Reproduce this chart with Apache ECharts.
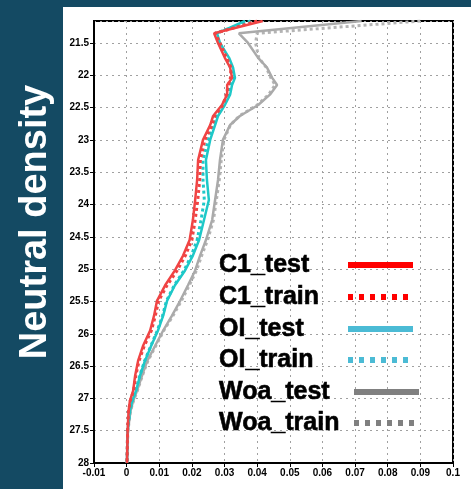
<!DOCTYPE html>
<html>
<head>
<meta charset="utf-8">
<script src="https://cdn.jsdelivr.net/npm/echarts@6/dist/echarts.min.js"></script>
<style>
  html, body { margin: 0; padding: 0; background: #144a63; }
  #chart { width: 471px; height: 489px; }
</style>
</head>
<body>
<div id="chart"></div>
<script>
// neutral density levels (y axis)
const density = [21.16, 21.35, 21.5, 21.73, 21.88, 22.04, 22.15, 22.3, 22.46, 22.63, 22.77,
  23.0, 23.31, 23.62, 23.93, 24.24, 24.55, 24.79, 25.02, 25.25, 25.49, 25.72, 25.95,
  26.19, 26.42, 26.65, 26.88, 27.04, 27.19, 27.5, 28.0];

const c1Test = [0.0417, 0.0268, 0.0280, 0.0301, 0.0317, 0.0323, 0.0308, 0.0308, 0.0292, 0.0265, 0.0256,
  0.0234, 0.0219, 0.0216, 0.0210, 0.0203, 0.0193, 0.0173, 0.0148, 0.0118, 0.0093, 0.0084, 0.0072,
  0.0050, 0.0035, 0.0026, 0.0020, 0.0010, 0.0006, 0.0003, 0.0001];
const c1Train = [0.0400, 0.0272, 0.0286, 0.0306, 0.0320, 0.0318, 0.0312, 0.0305, 0.0295, 0.0270, 0.0262,
  0.0240, 0.0226, 0.0224, 0.0218, 0.0210, 0.0200, 0.0180, 0.0155, 0.0124, 0.0098, 0.0088, 0.0076,
  0.0054, 0.0038, 0.0028, 0.0021, 0.0011, 0.0006, 0.0003, 0.0001];
const oiTest = [0.0363, 0.0277, 0.0286, 0.0314, 0.0326, 0.0332, 0.0323, 0.0317, 0.0301, 0.0280, 0.0271,
  0.0256, 0.0243, 0.0246, 0.0252, 0.0237, 0.0222, 0.0203, 0.0179, 0.0148, 0.0124, 0.0112, 0.0096,
  0.0075, 0.0056, 0.0041, 0.0029, 0.0017, 0.0010, 0.0003, 0.0001];
const oiTrain = [0.0380, 0.0272, 0.0282, 0.0305, 0.0318, 0.0325, 0.0318, 0.0312, 0.0298, 0.0276, 0.0266,
  0.0250, 0.0234, 0.0234, 0.0238, 0.0228, 0.0216, 0.0198, 0.0176, 0.0146, 0.0122, 0.0110, 0.0094,
  0.0074, 0.0055, 0.0040, 0.0028, 0.0017, 0.0010, 0.0003, 0.0001];
const woaTest = [0.0720, 0.0344, 0.0372, 0.0403, 0.0430, 0.0446, 0.0461, 0.0439, 0.0403, 0.0347, 0.0317,
  0.0295, 0.0286, 0.0280, 0.0271, 0.0262, 0.0243, 0.0225, 0.0210, 0.0188, 0.0164, 0.0139, 0.0112,
  0.0087, 0.0063, 0.0047, 0.0032, 0.0020, 0.0012, 0.0004, 0.0001];
const woaTrain = [0.0900, 0.0400, 0.0395, 0.0405, 0.0428, 0.0442, 0.0455, 0.0435, 0.0400, 0.0345, 0.0318,
  0.0298, 0.0290, 0.0284, 0.0275, 0.0266, 0.0248, 0.0230, 0.0214, 0.0192, 0.0168, 0.0142, 0.0114,
  0.0089, 0.0065, 0.0048, 0.0033, 0.0021, 0.0012, 0.0004, 0.0001];

const legendNames = ['C1_test', 'C1_train', 'OI_test', 'OI_train', 'Woa_test', 'Woa_train'];

const chart = echarts.init(document.getElementById('chart'));

function pairs(vals) {
  return vals.map((v, i) => [v, density[i]]);
}

function line(name, vals, color, dotted) {
  return {
    name: name,
    type: 'line',
    data: pairs(vals),
    showSymbol: false,
    clip: true,
    animation: false,
    lineStyle: { color: color, width: dotted ? 3 : 2.5, type: dotted ? [3, 3] : 'solid' }
  };
}

// legend drawn by hand: text left, line sample right
const legendColors = ['#ff0000', '#ff0000', '#4bbbd5', '#4bbbd5', '#808080', '#808080'];
const legendRows = [265, 297, 329, 360, 392, 423];
const legendGraphics = [];
legendNames.forEach((n, i) => {
  const x0 = i >= 4 ? 354 : 348;
  legendGraphics.push({
    type: 'text', x: 219, y: legendRows[i], z: 100,
    style: { text: n, fill: '#000', stroke: '#000', lineWidth: 0.6,
      font: 'bold 25px "Liberation Sans", Arial, sans-serif', verticalAlign: 'middle' }
  });
  legendGraphics.push({
    type: 'line', z: 100,
    shape: { x1: x0, y1: legendRows[i], x2: x0 + 65, y2: legendRows[i] },
    style: { stroke: legendColors[i], lineWidth: 6, lineDash: i % 2 ? [5, 6] : null }
  });
});

const gridDots = { show: true, lineStyle: { color: '#a0a0a0', type: [2, 4], width: 1 } };

const option = {
  backgroundColor: '#144a63',
  animation: false,
  grid: { left: 94, right: 18, top: 21, bottom: 26, show: true, borderColor: '#000', borderWidth: 2 },
  xAxis: {
    type: 'value',
    min: -0.01, max: 0.1, interval: 0.01,
    axisLine: { onZero: false, lineStyle: { color: '#000', width: 2 } },
    axisTick: { show: true, length: 4, lineStyle: { color: '#000' } },
    axisLabel: { color: '#000', fontWeight: 'bold', fontSize: 10, margin: 5, fontFamily: 'Liberation Sans',
      formatter: v => String(+v.toFixed(2)) },
    splitLine: gridDots
  },
  yAxis: {
    type: 'value',
    inverse: true,
    min: 21.16, max: 28, minInterval: 0.5, maxInterval: 0.5, splitNumber: 14,
    axisLine: { onZero: false, lineStyle: { color: '#000', width: 2 } },
    axisTick: { show: true, length: 4, lineStyle: { color: '#000' } },
    axisLabel: { color: '#000', fontWeight: 'bold', fontSize: 10, margin: 5, fontFamily: 'Liberation Sans',
      showMinLabel: false,
      formatter: v => (Math.abs(v * 2 - Math.round(v * 2)) < 1e-6 ? String(v) : '') },
    splitLine: gridDots
  },
  graphic: [
    { type: 'rect', shape: { x: 63, y: 7, width: 408, height: 482 }, style: { fill: '#fff' }, z: -10 },
    { type: 'text', x: 36, y: 222, rotation: Math.PI / 2,
      style: { text: 'Neutral density', fill: '#fff', font: 'bold 38px "Liberation Sans", Arial, sans-serif',
        align: 'center', verticalAlign: 'middle' } }
  ].concat(legendGraphics),
  series: [
    line('Woa_train', woaTrain, '#b4b4b4', true),
    line('Woa_test', woaTest, '#aaaaaa', false),
    line('OI_train', oiTrain, '#1ec8c8', true),
    line('OI_test', oiTest, '#1ec8c8', false),
    line('C1_train', c1Train, '#f04444', true),
    line('C1_test', c1Test, '#f04444', false)
  ]
};

chart.setOption(option);
</script>
</body>
</html>
